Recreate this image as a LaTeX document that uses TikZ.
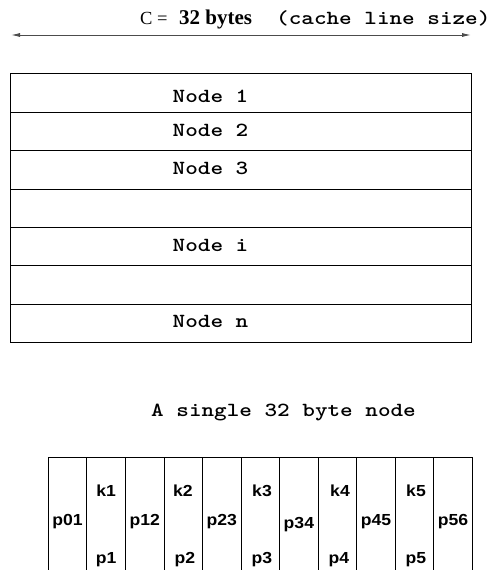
\documentclass[tikz,border=0pt]{standalone}
\usepackage{fontspec}
\usetikzlibrary{arrows.meta}
\newfontfamily\tms{Liberation Serif}
\newfontfamily\hlv{Liberation Sans}[FakeStretch=1.1]
\newfontfamily\cour{lmmonolt10-bold}[Extension=.otf,FakeStretch=1.2]
\tikzset{
  rowbox/.style={draw, line width=0.8pt, minimum width=461pt, minimum height=38.43pt, inner sep=0pt, anchor=north west},
  lbl/.style={inner sep=0pt, anchor=base west, font=\cour\fontsize{20}{24}\selectfont},
  cell/.style={inner sep=0pt, anchor=base, font=\hlv\bfseries\fontsize{16}{19}\selectfont},
  serif/.style={inner sep=0pt, anchor=base west, font=\tms\fontsize{21}{25}\selectfont},
  tbl/.style={line width=0.8pt},
}
\begin{document}
\begin{tikzpicture}[x=1pt,y=-1pt]
\useasboundingbox (0,0) rectangle (489,570);
% heading
\node[serif, font=\tms\fontsize{18.5}{22}\selectfont] (ceq) at (140,24) {C =};
\node[serif] (bytes) at (179,24) {\bfseries 32 bytes};
\node[lbl] (cls) at (276,24) {(cache line size)};
\coordinate (al) at (11,35);
\coordinate (ar) at (471,35);
\draw[line width=0.9pt, draw=black!70, {Latex[length=9pt,width=4pt]}-{Latex[length=9pt,width=4pt]}] (al) -- (ar);
% rows
\foreach \k in {1,...,7}
  \node[rowbox] (r\k) at (10,{73.3+38.43*(\k-1)}) {};
\node[lbl] (n1) at (172.5,102.5) {Node 1};
\node[lbl] (n2) at (172.5,136) {Node 2};
\node[lbl] (n3) at (172.5,174) {Node 3};
\node[lbl] (ni) at (172.5,251) {Node i};
\node[lbl] (nn) at (172.5,327.7) {Node n};
% single node
\node[lbl] (title) at (151,416) {A single 32 byte node};
\draw[tbl] (48.3,457) -- (472.3,457);
\foreach \i in {0,...,11}
  \draw[tbl] ({48.3+38.55*\i},457) -- ({48.3+38.55*\i},570);
\node[cell] (p01) at (67.6,525) {p01};
\node[cell] (k1) at (106.1,496.5) {k1};
\node[cell] (p1) at (106.1,563) {p1};
\node[cell] (p12) at (144.7,525) {p12};
\node[cell] (k2) at (183,496.5) {k2};
\node[cell] (p2) at (185,563) {p2};
\node[cell] (p23) at (221.8,525) {p23};
\node[cell] (k3) at (262,496.5) {k3};
\node[cell] (p3) at (262,563) {p3};
\node[cell] (p34) at (298.9,528) {p34};
\node[cell] (k4) at (340,496.5) {k4};
\node[cell] (p4) at (339,563) {p4};
\node[cell] (p45) at (376,525) {p45};
\node[cell] (k5) at (416,496.5) {k5};
\node[cell] (p5) at (416,563) {p5};
\node[cell] (p56) at (453.1,525) {p56};
\end{tikzpicture}
\end{document}
